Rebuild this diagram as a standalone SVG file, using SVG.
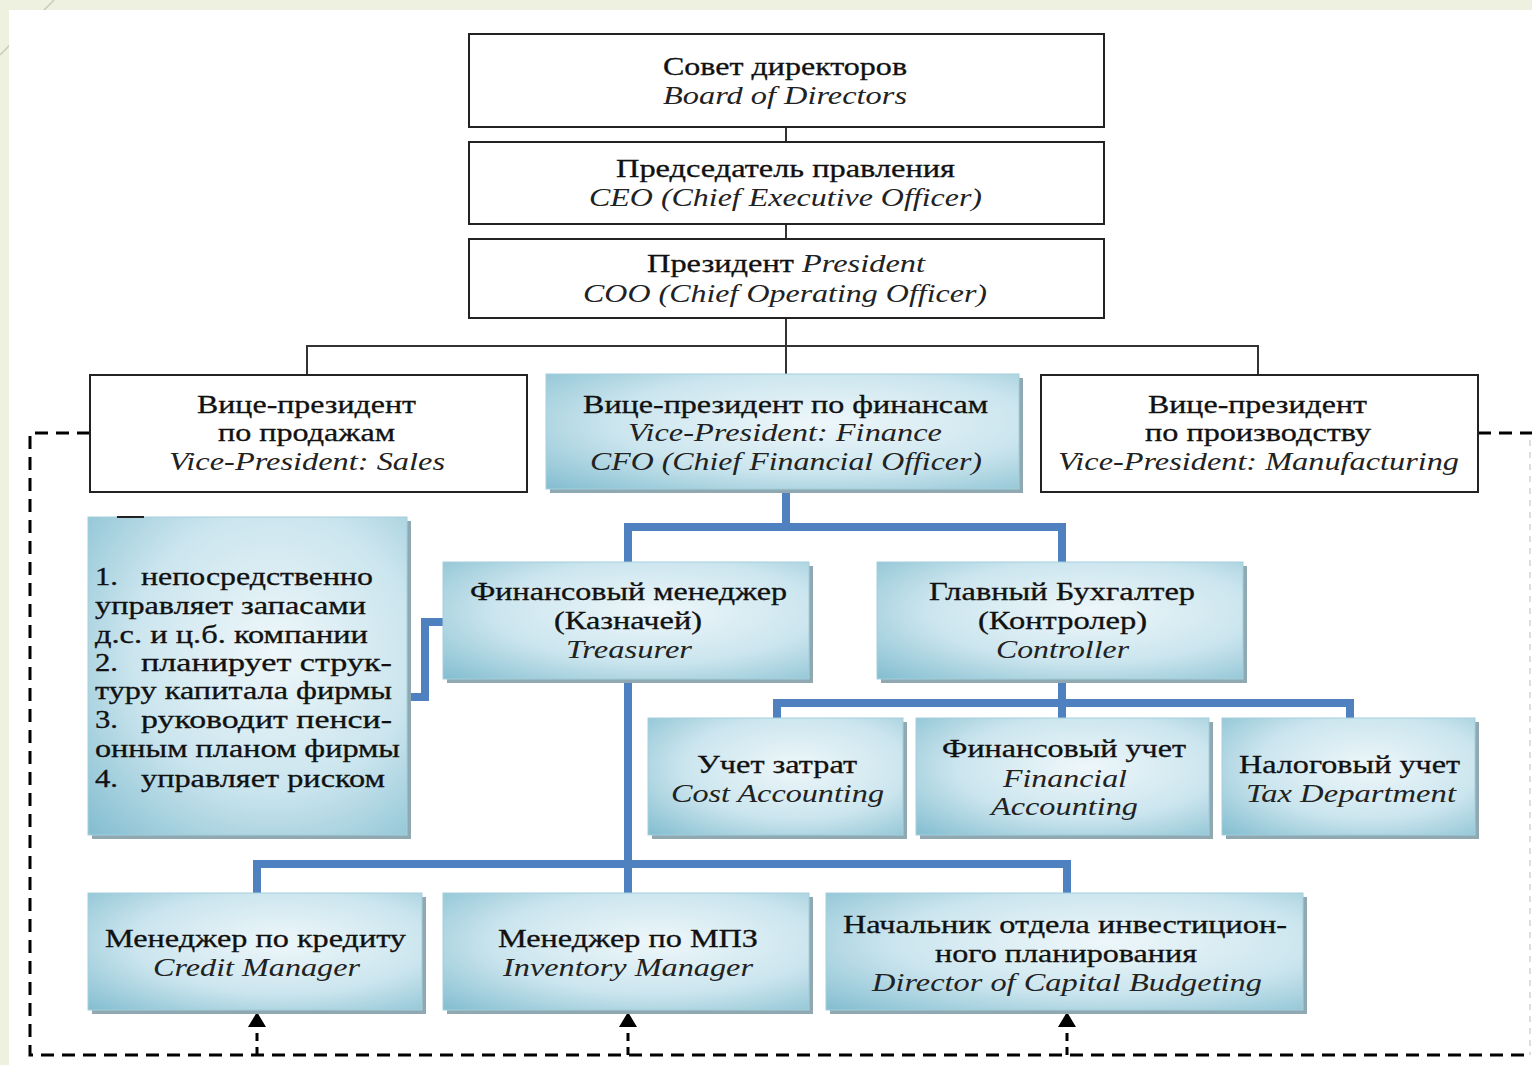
<svg xmlns="http://www.w3.org/2000/svg" width="1532" height="1065" viewBox="0 0 1532 1065">
<defs>
<radialGradient id="bg" cx="0.58" cy="0.42" r="0.8">
<stop offset="0" stop-color="#eef7fa"/>
<stop offset="0.55" stop-color="#cbe5ee"/>
<stop offset="1" stop-color="#86bfd1"/>
</radialGradient>
</defs>
<style>
.wb{fill:#fff;stroke:#222;stroke-width:2}
.sh{fill:#8fa8b1}
.bb{fill:url(#bg);stroke:#a3cfdb;stroke-width:1}
.ru{font-family:"Liberation Serif","Times New Roman",serif;font-size:25px;fill:#111;stroke:#111;stroke-width:0.3}
.en{font-family:"Liberation Serif","Times New Roman",serif;font-size:25px;font-style:italic;fill:#222}
.blk{stroke:#333;stroke-width:2;fill:none}
.blu{stroke:#4f80bf;stroke-width:8;fill:none}
.dsh{stroke:#000;stroke-width:3;fill:none;stroke-dasharray:13 8}
.ast{stroke:#000;stroke-width:3;fill:none;stroke-dasharray:8 6}
.ahd{fill:#000}
</style>
<rect x="0" y="0" width="1532" height="1065" fill="#eef1df"/>
<line x1="0" y1="55" x2="54" y2="0" stroke="#c9cbb8" stroke-width="1.5"/>
<rect x="9" y="10" width="1523" height="1055" fill="#fff"/>

<g id="connectors">
<path class="blk" d="M786,127V142M786,224V239M786,318V374M307,374V346H1258V374"/>
<path class="blu" d="M786,492V527M628,562V527H1062V562"/>
<path class="blu" d="M443,622H425V697H410"/>
<path class="blu" d="M1062,682V703M777,718V703H1350V718M1062,703V718"/>
<path class="blu" d="M628,682V893M257,893V864H1067V893"/>
<path class="dsh" d="M90,433H30V1055H1532M1478,433H1532"/>
<line x1="1530" y1="440" x2="1530" y2="1055" stroke="#bbb" stroke-width="1" stroke-dasharray="6 6"/>
<path class="ast" d="M257,1055V1026M628,1055V1026M1067,1055V1026"/>
<path class="ahd" d="M248,1027L257,1012L266,1027Z M619,1027L628,1012L637,1027Z M1058,1027L1067,1012L1076,1027Z"/>
</g>

<g id="board">
<rect class="wb" x="469" y="34" width="635" height="93"/>
<text class="ru" x="663" y="75" textLength="244" lengthAdjust="spacingAndGlyphs">Совет директоров</text>
<text class="en" x="663" y="104" textLength="244" lengthAdjust="spacingAndGlyphs">Board of Directors</text>
</g>
<g id="ceo">
<rect class="wb" x="469" y="142" width="635" height="82"/>
<text class="ru" x="616" y="177" textLength="339" lengthAdjust="spacingAndGlyphs">Председатель правления</text>
<text class="en" x="589" y="206" textLength="393" lengthAdjust="spacingAndGlyphs">CEO (Chief Executive Officer)</text>
</g>
<g id="president">
<rect class="wb" x="469" y="239" width="635" height="79"/>
<text x="647" y="272" textLength="278" lengthAdjust="spacingAndGlyphs"><tspan class="ru">Президент </tspan><tspan class="en">President</tspan></text>
<text class="en" x="583" y="302" textLength="404" lengthAdjust="spacingAndGlyphs">COO (Chief Operating Officer)</text>
</g>

<g id="vp-sales">
<rect class="wb" x="90" y="375" width="437" height="117"/>
<text class="ru" x="197" y="413" textLength="219" lengthAdjust="spacingAndGlyphs">Вице-президент</text>
<text class="ru" x="218" y="441" textLength="177" lengthAdjust="spacingAndGlyphs">по продажам</text>
<text class="en" x="169" y="470" textLength="276" lengthAdjust="spacingAndGlyphs">Vice-President: Sales</text>
</g>
<g id="vp-finance">
<rect class="sh" x="550" y="378" width="473" height="115"/>
<rect class="bb" x="546" y="374" width="473" height="115"/>
<text class="ru" x="583" y="413" textLength="405" lengthAdjust="spacingAndGlyphs">Вице-президент по финансам</text>
<text class="en" x="628" y="441" textLength="314" lengthAdjust="spacingAndGlyphs">Vice-President: Finance</text>
<text class="en" x="590" y="470" textLength="392" lengthAdjust="spacingAndGlyphs">CFO (Chief Financial Officer)</text>
</g>
<g id="vp-manufacturing">
<rect class="wb" x="1041" y="375" width="437" height="117"/>
<text class="ru" x="1148" y="413" textLength="219" lengthAdjust="spacingAndGlyphs">Вице-президент</text>
<text class="ru" x="1145" y="441" textLength="226" lengthAdjust="spacingAndGlyphs">по производству</text>
<text class="en" x="1058" y="470" textLength="401" lengthAdjust="spacingAndGlyphs">Vice-President: Manufacturing</text>
</g>

<g id="duties">
<rect class="sh" x="92" y="521" width="319" height="318"/>
<rect class="bb" x="88" y="517" width="319" height="318"/>
<line x1="117" y1="517" x2="144" y2="517" stroke="#222" stroke-width="2"/>
<text class="ru" x="95" y="585" textLength="23" lengthAdjust="spacingAndGlyphs">1.</text>
<text class="ru" x="141" y="585" textLength="232" lengthAdjust="spacingAndGlyphs">непосредственно</text>
<text class="ru" x="95" y="614" textLength="271" lengthAdjust="spacingAndGlyphs">управляет запасами</text>
<text class="ru" x="95" y="643" textLength="273" lengthAdjust="spacingAndGlyphs">д.с. и ц.б. компании</text>
<text class="ru" x="95" y="671" textLength="23" lengthAdjust="spacingAndGlyphs">2.</text>
<text class="ru" x="141" y="671" textLength="251" lengthAdjust="spacingAndGlyphs">планирует струк-</text>
<text class="ru" x="95" y="699" textLength="297" lengthAdjust="spacingAndGlyphs">туру капитала фирмы</text>
<text class="ru" x="95" y="728" textLength="23" lengthAdjust="spacingAndGlyphs">3.</text>
<text class="ru" x="141" y="728" textLength="251" lengthAdjust="spacingAndGlyphs">руководит пенси-</text>
<text class="ru" x="95" y="757" textLength="305" lengthAdjust="spacingAndGlyphs">онным планом фирмы</text>
<text class="ru" x="95" y="787" textLength="23" lengthAdjust="spacingAndGlyphs">4.</text>
<text class="ru" x="141" y="787" textLength="244" lengthAdjust="spacingAndGlyphs">управляет риском</text>
</g>

<g id="treasurer">
<rect class="sh" x="447" y="566" width="366" height="117"/>
<rect class="bb" x="443" y="562" width="366" height="117"/>
<text class="ru" x="470" y="600" textLength="317" lengthAdjust="spacingAndGlyphs">Финансовый менеджер</text>
<text class="ru" x="554" y="629" textLength="148" lengthAdjust="spacingAndGlyphs">(Казначей)</text>
<text class="en" x="566" y="658" textLength="126" lengthAdjust="spacingAndGlyphs">Treasurer</text>
</g>
<g id="controller">
<rect class="sh" x="881" y="566" width="366" height="117"/>
<rect class="bb" x="877" y="562" width="366" height="117"/>
<text class="ru" x="929" y="600" textLength="266" lengthAdjust="spacingAndGlyphs">Главный Бухгалтер</text>
<text class="ru" x="978" y="629" textLength="169" lengthAdjust="spacingAndGlyphs">(Контролер)</text>
<text class="en" x="996" y="658" textLength="133" lengthAdjust="spacingAndGlyphs">Controller</text>
</g>

<g id="cost-accounting">
<rect class="sh" x="652" y="722" width="255" height="117"/>
<rect class="bb" x="648" y="718" width="255" height="117"/>
<text class="ru" x="697" y="773" textLength="160" lengthAdjust="spacingAndGlyphs">Учет затрат</text>
<text class="en" x="671" y="802" textLength="213" lengthAdjust="spacingAndGlyphs">Cost Accounting</text>
</g>
<g id="financial-accounting">
<rect class="sh" x="920" y="722" width="293" height="117"/>
<rect class="bb" x="916" y="718" width="293" height="117"/>
<text class="ru" x="942" y="757" textLength="244" lengthAdjust="spacingAndGlyphs">Финансовый учет</text>
<text class="en" x="1003" y="787" textLength="124" lengthAdjust="spacingAndGlyphs">Financial</text>
<text class="en" x="991" y="815" textLength="147" lengthAdjust="spacingAndGlyphs">Accounting</text>
</g>
<g id="tax">
<rect class="sh" x="1226" y="722" width="253" height="117"/>
<rect class="bb" x="1222" y="718" width="253" height="117"/>
<text class="ru" x="1239" y="773" textLength="221" lengthAdjust="spacingAndGlyphs">Налоговый учет</text>
<text class="en" x="1246" y="802" textLength="210" lengthAdjust="spacingAndGlyphs">Tax Department</text>
</g>

<g id="credit-manager">
<rect class="sh" x="92" y="897" width="334" height="117"/>
<rect class="bb" x="88" y="893" width="334" height="117"/>
<text class="ru" x="105" y="947" textLength="301" lengthAdjust="spacingAndGlyphs">Менеджер по кредиту</text>
<text class="en" x="153" y="976" textLength="207" lengthAdjust="spacingAndGlyphs">Credit Manager</text>
</g>
<g id="inventory-manager">
<rect class="sh" x="447" y="897" width="366" height="117"/>
<rect class="bb" x="443" y="893" width="366" height="117"/>
<text class="ru" x="498" y="947" textLength="260" lengthAdjust="spacingAndGlyphs">Менеджер по МПЗ</text>
<text class="en" x="503" y="976" textLength="250" lengthAdjust="spacingAndGlyphs">Inventory Manager</text>
</g>
<g id="capital-budgeting">
<rect class="sh" x="830" y="897" width="477" height="117"/>
<rect class="bb" x="826" y="893" width="477" height="117"/>
<text class="ru" x="843" y="933" textLength="444" lengthAdjust="spacingAndGlyphs">Начальник отдела инвестицион-</text>
<text class="ru" x="935" y="962" textLength="262" lengthAdjust="spacingAndGlyphs">ного планирования</text>
<text class="en" x="872" y="991" textLength="390" lengthAdjust="spacingAndGlyphs">Director of Capital Budgeting</text>
</g>
</svg>
